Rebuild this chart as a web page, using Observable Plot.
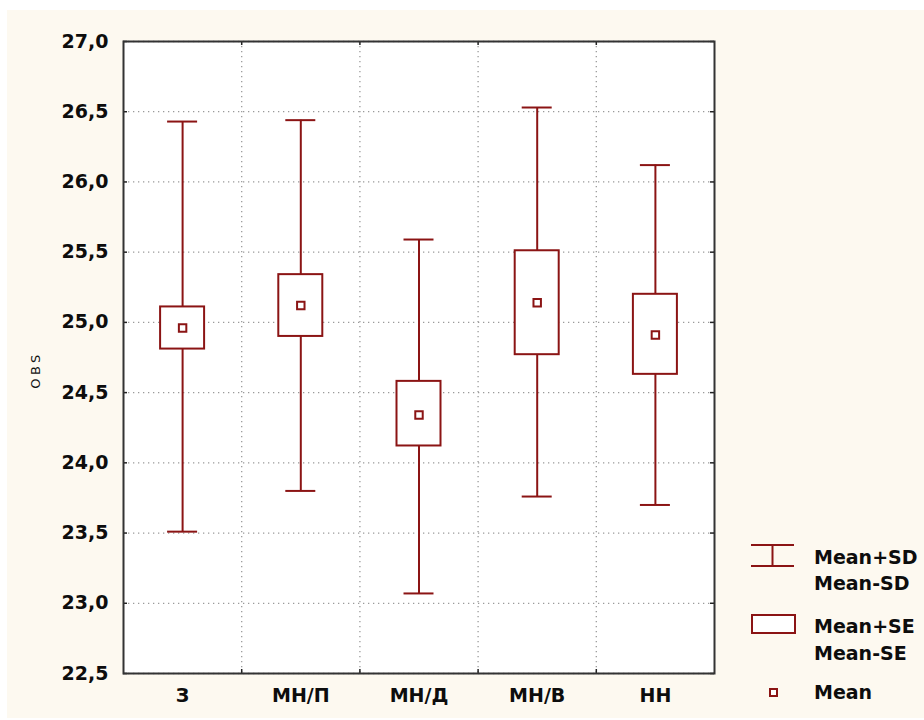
<!DOCTYPE html>
<html>
<head>
<meta charset="utf-8">
<script src="https://cdn.jsdelivr.net/npm/d3@7"></script>
<script src="https://cdn.jsdelivr.net/npm/@observablehq/plot@0.6"></script>
<style>
  html, body { margin: 0; padding: 0; background: #ffffff; }
  #page { position: relative; width: 924px; height: 720px; overflow: hidden; }
  #panel { position: absolute; left: 7px; top: 10px; width: 917px; height: 708px; background: #fdf9f0; }
  #chart { position: absolute; left: 0; top: 0; }
  #ylabel {
    position: absolute; left: 35px; top: 370px;
    transform: translate(-50%, -50%) rotate(-90deg);
    font: 13px "DejaVu Sans", sans-serif; letter-spacing: 3.5px; color: #111;
    white-space: nowrap;
  }
  #legend { position: absolute; left: 0; top: 0; }
</style>
</head>
<body>
<div id="page">
  <div id="panel"></div>
  <div id="chart"></div>
  <div id="ylabel">OBS</div>
  <svg id="legend" width="924" height="720"></svg>
</div>
<script>
// Groups and their summary statistics (OBS)
const categories = ["З", "МН/П", "МН/Д", "МН/В", "НН"];
const means = [24.96, 25.12, 24.34, 25.14, 24.91];
const seHigh = [25.11, 25.34, 24.58, 25.51, 25.20];
const seLow = [24.81, 24.90, 24.12, 24.77, 24.63];
const sdHigh = [26.43, 26.44, 25.59, 26.53, 26.12];
const sdLow = [23.51, 23.80, 23.07, 23.76, 23.70];
const yTicks = [22.5, 23.0, 23.5, 24.0, 24.5, 25.0, 25.5, 26.0, 26.5, 27.0];

const red = "#8b1414";
const rows = categories.map((cat, i) => ({
  cat, pos: i + 0.5,
  mean: means[i], seHi: seHigh[i], seLo: seLow[i], sdHi: sdHigh[i], sdLo: sdLow[i]
}));
const centers = rows.map(d => d.pos);
const bounds = d3.range(1, categories.length);
const fmt = v => v.toFixed(1).replace(".", ",");

const chart = Plot.plot({
  width: 924,
  height: 720,
  marginTop: 41,
  marginRight: 210,
  marginBottom: 47,
  marginLeft: 123,
  style: {background: "transparent", fontFamily: "DejaVu Sans, sans-serif", fontSize: "19px", fontWeight: "bold", color: "#0d0d0d", overflow: "visible"},
  x: {domain: [0, categories.length], axis: null},
  y: {domain: [22.5, 27], axis: null},
  marks: [
    Plot.frame({fill: "white", stroke: null}),
    Plot.gridY(yTicks, {stroke: "#9a9a9a", strokeOpacity: 1, strokeWidth: 1.3, strokeDasharray: "1.3,3.7"}),
    Plot.gridX(bounds, {stroke: "#9a9a9a", strokeOpacity: 1, strokeWidth: 1.3, strokeDasharray: "1.3,3.7"}),
    // inward tick marks on all four sides
    Plot.ruleY(yTicks, {y: d => d, x1: 0, x2: 0, insetRight: -4, stroke: "#222", strokeWidth: 1.5}),
    Plot.ruleY(yTicks, {y: d => d, x1: categories.length, x2: categories.length, insetLeft: -4, stroke: "#222", strokeWidth: 1.5}),
    Plot.ruleX(bounds, {x: d => d, y1: 22.5, y2: 22.5, insetTop: -4, stroke: "#222", strokeWidth: 1.5}),
    Plot.ruleX(bounds, {x: d => d, y1: 27, y2: 27, insetBottom: -4, stroke: "#222", strokeWidth: 1.5}),
    Plot.frame({stroke: "#333", strokeWidth: 2}),
    // tick labels
    Plot.axisY({ticks: yTicks, tickFormat: fmt, tickSize: 0, tickPadding: 15, label: null}),
    Plot.axisX({ticks: centers, tickFormat: p => categories[Math.floor(p)], tickSize: 0, tickPadding: 15, label: null}),
    // Mean ± SD whiskers with caps
    Plot.ruleX(rows, {x: "pos", y1: "sdLo", y2: "sdHi", stroke: red, strokeWidth: 2}),
    Plot.ruleY(rows, {y: "sdHi", x1: "pos", x2: "pos", insetLeft: -15, insetRight: -15, stroke: red, strokeWidth: 2}),
    Plot.ruleY(rows, {y: "sdLo", x1: "pos", x2: "pos", insetLeft: -15, insetRight: -15, stroke: red, strokeWidth: 2}),
    // Mean ± SE boxes
    Plot.rect(rows, {x1: "pos", x2: "pos", y1: "seLo", y2: "seHi", insetLeft: -22, insetRight: -22, fill: "white", stroke: red, strokeWidth: 2}),
    // Mean markers
    Plot.dot(rows, {x: "pos", y: "mean", symbol: "square", r: 4.2, fill: "white", stroke: red, strokeWidth: 2})
  ]
});
document.getElementById("chart").append(chart);

// Legend
const lg = d3.select("#legend");
const sym = lg.append("g").attr("stroke", red).attr("stroke-width", 2).attr("fill", "white");
sym.append("line").attr("x1", 751).attr("x2", 794).attr("y1", 545).attr("y2", 545);
sym.append("line").attr("x1", 751).attr("x2", 794).attr("y1", 566).attr("y2", 566);
sym.append("line").attr("x1", 772.5).attr("x2", 772.5).attr("y1", 545).attr("y2", 566);
sym.append("rect").attr("x", 752).attr("y", 615).attr("width", 43).attr("height", 18);
sym.append("rect").attr("x", 770).attr("y", 689).attr("width", 7).attr("height", 7);
const entries = [
  ["Mean+SD", 564], ["Mean-SD", 590],
  ["Mean+SE", 633], ["Mean-SE", 660],
  ["Mean", 699]
];
lg.append("g")
  .attr("font-family", "DejaVu Sans, sans-serif")
  .attr("font-size", 19)
  .attr("font-weight", "bold")
  .attr("fill", "#0d0d0d")
  .selectAll("text").data(entries).join("text")
  .attr("x", 814).attr("y", d => d[1]).text(d => d[0]);
</script>
</body>
</html>
